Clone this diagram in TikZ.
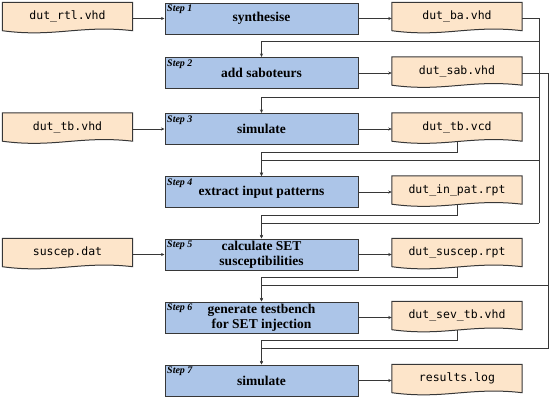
\documentclass[tikz,border=0pt]{standalone}
\usepackage{fontspec}
\setmainfont{Liberation Serif}
\setmonofont{DejaVu Sans Mono}
\usepackage{tikz}
\usetikzlibrary{arrows.meta,positioning,calc,backgrounds}
\definecolor{stepblue}{RGB}{172,197,232}
\definecolor{filepeach}{RGB}{253,229,202}
\definecolor{edgegray}{RGB}{55,55,55}

\tikzset{
  stepbox/.style={draw=edgegray,line width=1pt,fill=stepblue,minimum width=193pt,
    minimum height=31pt,align=center,inner sep=1pt,font=\fontsize{13.5}{15.5}\selectfont\bfseries},
  steptag/.style={anchor=north west,inner sep=2.5pt,font=\fontsize{10}{10}\selectfont\bfseries\itshape},
  filebox/.style={minimum width=130pt,minimum height=28pt,inner sep=1pt,
    font=\fontsize{11.5}{12}\selectfont\ttfamily},
  fileshape/.style={draw=edgegray,line width=1pt,fill=filepeach},
  wire/.style={draw=edgegray,line width=0.8pt},
  flow/.style={wire,-{Stealth[length=3.5pt,width=3pt]}}
}

% file node with a wavy lower edge
\newcommand{\docshape}[1]{%
  \filldraw[fileshape] (#1.north west) -- (#1.north east) -- (#1.south east)
    .. controls ($(#1.south west)!0.6!(#1.south east)+(0,-6)$)
    and ($(#1.south west)!0.4!(#1.south east)+(0,7)$) .. (#1.south west) -- cycle;}

\begin{document}
\begin{tikzpicture}[x=1pt,y=-1pt]
  \useasboundingbox (0,0) rectangle (550,400);
  % steps
  \node[stepbox] (s1) at (261.5,18.5) {synthesise};
  \node[stepbox] (s2) at (261.5,73) {add saboteurs};
  \node[stepbox] (s3) at (261.5,129) {simulate};
  \node[stepbox] (s4) at (261.5,192) {extract input patterns};
  \node[stepbox] (s5) at (261.5,254.5) {calculate SET\\susceptibilities};
  \node[stepbox] (s6) at (261.5,317.5) {generate testbench\\for SET injection};
  \node[stepbox] (s7) at (261.5,380.5) {simulate};
  \foreach \i in {1,...,7}
    \node[steptag] (t\i) at (s\i.north west) {Step \i};
  % input files
  \node[filebox] (rtl) at (67.5,16.5) {dut\_rtl.vhd};
  \node[filebox] (tbv) at (67.5,127) {dut\_tb.vhd};
  \node[filebox] (susdat) at (67.5,252.5) {suscep.dat};
  % output files
  \node[filebox] (ba) at (457,16.5) {dut\_ba.vhd};
  \node[filebox] (sab) at (457,71) {dut\_sab.vhd};
  \node[filebox] (tbvcd) at (457,127) {dut\_tb.vcd};
  \node[filebox] (inpat) at (457,190) {dut\_in\_pat.rpt};
  \node[filebox] (susrpt) at (457,252.5) {dut\_suscep.rpt};
  \node[filebox] (sevtb) at (457,315.5) {dut\_sev\_tb.vhd};
  \node[filebox] (res) at (457,378.5) {results.log};
  \begin{scope}[on background layer]
    \foreach \f in {rtl,tbv,susdat,ba,sab,tbvcd,inpat,susrpt,sevtb,res}
      \docshape{\f};
  \end{scope}
  \coordinate (busA) at (539,0);
  \coordinate (busB) at (548,0);
  % inputs into steps
  \foreach \f/\k in {rtl/1,tbv/3,susdat/5}
    \draw[flow] (\f.east |- s\k.west) -- (s\k.west);
  % steps to their outputs
  \foreach \k/\f in {1/ba,2/sab,3/tbvcd,4/inpat,5/susrpt,6/sevtb,7/res}
    \draw[flow] (s\k.east) -- (s\k.east -| \f.west);
  % netlist bus
  \draw[wire] (ba.east |- s1.east) -| ([yshift=-15pt]s4.south -| busA);
  \foreach \k/\p/\d in {2/1/7,3/2/8,4/3/15,5/4/15}
    \draw[flow] ([yshift=-\d pt]s\p.south -| busA) -| (s\k.north);
  % sabotaged netlist bus
  \draw[wire] (sab.east |- s2.east) -| ([yshift=-15pt]s6.south -| busB);
  \foreach \k/\p in {6/5,7/6}
    \draw[flow] ([yshift=-15pt]s\p.south -| busB) -| (s\k.north);
  % results fed to the next step
  \foreach \f/\p/\k in {tbvcd/3/4,inpat/4/5,susrpt/5/6,sevtb/6/7}
    \draw[flow] (\f.south) |- ([yshift=-7pt]s\p.south) -- (s\k.north);
\end{tikzpicture}
\end{document}
